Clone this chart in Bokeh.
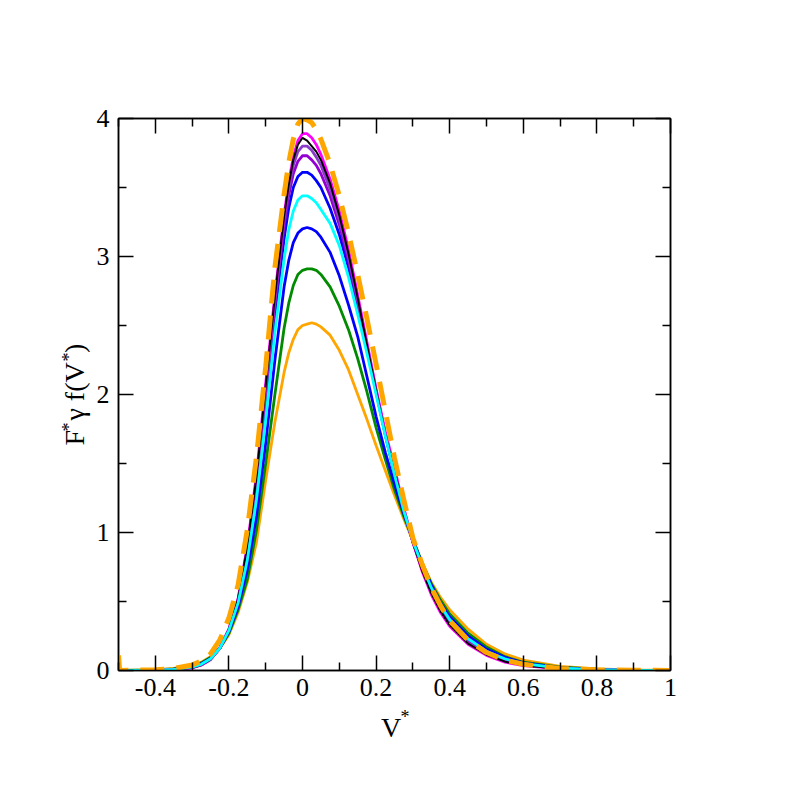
import math
from bokeh.plotting import figure
from bokeh.models import (FixedTicker, LinearAxis, Label, Range1d, CustomJSTickFormatter)
from bokeh.embed import file_html
from bokeh.resources import INLINE

# ---------------- data ----------------
v_star = [-0.5, -0.497, -0.4, -0.35, -0.3, -0.275, -0.25, -0.225, -0.2, -0.175,
          -0.15, -0.125, -0.1, -0.075, -0.05, -0.0375, -0.025, -0.0125, 0.0, 0.0125,
          0.025, 0.0375, 0.05, 0.075, 0.1, 0.125, 0.15, 0.175, 0.2, 0.225,
          0.25, 0.275, 0.3, 0.325, 0.35, 0.375, 0.4, 0.45, 0.5, 0.55,
          0.6, 0.7, 0.8, 0.9, 1.0]

f_theory = [0.11, 0.0, 0.005, 0.015, 0.04, 0.07, 0.12, 0.22, 0.38, 0.62,
            1.02, 1.55, 2.2, 2.92, 3.45, 3.68, 3.85, 3.96, 4.0, 3.99,
            3.97, 3.92, 3.85, 3.67, 3.44, 3.17, 2.87, 2.55, 2.22, 1.88,
            1.54, 1.24, 0.96, 0.77, 0.6, 0.47, 0.36, 0.22, 0.13, 0.075,
            0.045, 0.015, 0.005, 0.002, 0.0]

f_magenta = [0, 0, 0.002, 0.006, 0.02, 0.04, 0.08, 0.16, 0.3, 0.52,
             0.9, 1.42, 2.08, 2.72, 3.3, 3.54, 3.72, 3.84, 3.89, 3.89,
             3.86, 3.81, 3.74, 3.56, 3.33, 3.05, 2.72, 2.38, 2.04, 1.73,
             1.47, 1.18, 0.93, 0.72, 0.55, 0.42, 0.32, 0.19, 0.11, 0.06,
             0.035, 0.012, 0.004, 0.001, 0]

f_black = [0, 0, 0.002, 0.006, 0.02, 0.04, 0.08, 0.16, 0.3, 0.518,
           0.893, 1.405, 2.06, 2.71, 3.29, 3.52, 3.7, 3.81, 3.86, 3.84,
           3.8, 3.76, 3.7, 3.53, 3.3, 3.02, 2.7, 2.36, 2.03, 1.71,
           1.45, 1.17, 0.93, 0.725, 0.56, 0.43, 0.33, 0.195, 0.114, 0.064,
           0.037, 0.012, 0.004, 0.001, 0]

f_indigo = [0, 0, 0.002, 0.006, 0.02, 0.04, 0.08, 0.16, 0.298, 0.515,
            0.885, 1.39, 2.04, 2.69, 3.27, 3.49, 3.66, 3.76, 3.8, 3.8,
            3.77, 3.72, 3.66, 3.49, 3.27, 3.0, 2.69, 2.36, 2.03, 1.71,
            1.44, 1.17, 0.93, 0.73, 0.57, 0.44, 0.335, 0.2, 0.118, 0.068,
            0.04, 0.013, 0.004, 0.001, 0]

f_violet = [0, 0, 0.002, 0.006, 0.021, 0.041, 0.081, 0.16, 0.295, 0.51,
            0.87, 1.36, 2.0, 2.65, 3.22, 3.44, 3.6, 3.69, 3.73, 3.73,
            3.7, 3.66, 3.6, 3.44, 3.23, 2.97, 2.67, 2.35, 2.02, 1.71,
            1.43, 1.16, 0.93, 0.74, 0.58, 0.45, 0.345, 0.21, 0.125, 0.072,
            0.042, 0.014, 0.005, 0.0015, 0]

f_blue1 = [0, 0, 0.002, 0.007, 0.022, 0.042, 0.082, 0.16, 0.29, 0.5,
           0.84, 1.31, 1.93, 2.58, 3.13, 3.35, 3.5, 3.58, 3.61, 3.61,
           3.59, 3.55, 3.5, 3.35, 3.16, 2.92, 2.63, 2.33, 2.02, 1.71,
           1.42, 1.16, 0.93, 0.75, 0.59, 0.46, 0.355, 0.22, 0.13, 0.078,
           0.045, 0.015, 0.005, 0.0015, 0]

f_cyan = [0, 0, 0.003, 0.008, 0.025, 0.045, 0.085, 0.16, 0.29, 0.49,
          0.8, 1.24, 1.82, 2.45, 2.98, 3.19, 3.33, 3.41, 3.44, 3.44,
          3.42, 3.39, 3.34, 3.24, 3.08, 2.85, 2.58, 2.3, 2.0, 1.7,
          1.42, 1.16, 0.94, 0.76, 0.6, 0.47, 0.37, 0.23, 0.14, 0.085,
          0.05, 0.017, 0.006, 0.002, 0]

f_blue2 = [0, 0, 0.003, 0.01, 0.03, 0.05, 0.09, 0.16, 0.28, 0.46,
           0.73, 1.12, 1.65, 2.25, 2.78, 2.97, 3.1, 3.17, 3.2, 3.21,
           3.2, 3.18, 3.14, 3.03, 2.86, 2.65, 2.42, 2.13, 1.84, 1.58,
           1.35, 1.14, 0.95, 0.77, 0.62, 0.49, 0.39, 0.25, 0.155, 0.095,
           0.055, 0.02, 0.007, 0.002, 0]

f_green = [0, 0, 0.004, 0.012, 0.035, 0.055, 0.095, 0.16, 0.27, 0.44,
           0.66, 1.02, 1.5, 2.0, 2.48, 2.66, 2.79, 2.87, 2.9, 2.91,
           2.91, 2.9, 2.87, 2.78, 2.64, 2.47, 2.26, 2.02, 1.76, 1.53,
           1.31, 1.12, 0.95, 0.78, 0.63, 0.51, 0.41, 0.27, 0.17, 0.1,
           0.06, 0.024, 0.009, 0.003, 0.001]

f_orange = [0, 0, 0.005, 0.015, 0.04, 0.06, 0.1, 0.16, 0.26, 0.42,
            0.64, 0.93, 1.38, 1.8, 2.16, 2.3, 2.4, 2.47, 2.5, 2.51,
            2.52, 2.51, 2.49, 2.43, 2.32, 2.18, 2.0, 1.82, 1.63, 1.45,
            1.27, 1.1, 0.94, 0.78, 0.64, 0.53, 0.44, 0.3, 0.19, 0.12,
            0.075, 0.03, 0.012, 0.005, 0.002]

x_major = [-0.4, -0.2, 0.0, 0.2, 0.4, 0.6, 0.8, 1.0]
x_labels = ["-0.4", "-0.2", "0", "0.2", "0.4", "0.6", "0.8", "1"]
x_minor = [-0.5, -0.3, -0.1, 0.1, 0.3, 0.5, 0.7, 0.9]
y_major = [0, 1, 2, 3, 4]
y_labels = ["0", "1", "2", "3", "4"]
y_minor = [0.5, 1.5, 2.5, 3.5]

x_title = "V\u00a0"
y_title = "F\u00a0\u200a\u03b3 f(V\u00a0\u200a)"

FONT = "Liberation Serif"

# ---------------- figure ----------------
p = figure(width=788, height=788, frame_width=552, frame_height=552,
           x_range=Range1d(-0.5, 1.0), y_range=Range1d(0, 4),
           output_backend="svg", toolbar_location=None,
           min_border_left=118, min_border_right=118,
           min_border_top=118, min_border_bottom=118,
           x_axis_type=None, y_axis_type=None)
p.background_fill_color = "white"
p.border_fill_color = "white"
p.outline_line_color = "black"
p.outline_line_width = 1.5
p.xgrid.visible = False
p.ygrid.visible = False

def style_axis(ax, labels=True, standoff=6):
    ax.axis_line_color = "black"
    ax.axis_line_width = 1.5
    ax.major_tick_line_color = "black"
    ax.major_tick_line_width = 1.5
    ax.minor_tick_line_color = "black"
    ax.minor_tick_line_width = 1.5
    ax.major_tick_in = 15
    ax.major_tick_out = 0
    ax.minor_tick_in = 8
    ax.minor_tick_out = 0
    ax.major_label_text_font = FONT
    ax.major_label_text_font_size = "26px"
    ax.major_label_text_color = "black"
    ax.major_label_standoff = standoff
    ax.axis_label_text_font = FONT
    ax.axis_label_text_font_size = "28px"
    ax.axis_label_text_font_style = "normal"
    ax.axis_label_text_color = "black"
    if not labels:
        ax.formatter = CustomJSTickFormatter(code="return '';")

xt = FixedTicker(ticks=x_major, minor_ticks=x_minor)
yt = FixedTicker(ticks=y_major, minor_ticks=y_minor)

xb = LinearAxis(ticker=xt, axis_label=x_title)
xb.major_label_overrides = {t: s for t, s in zip(x_major, x_labels)}
style_axis(xb, True, 8)
xb.axis_label_standoff = 13
p.add_layout(xb, "below")

yl = LinearAxis(ticker=yt, axis_label=y_title)
yl.major_label_overrides = {t: s for t, s in zip(y_major, y_labels)}
style_axis(yl, True, 9)
yl.axis_label_standoff = 4
p.add_layout(yl, "left")

xa = LinearAxis(ticker=xt)
style_axis(xa, False)
p.add_layout(xa, "above")

yr = LinearAxis(ticker=yt)
style_axis(yr, False)
p.add_layout(yr, "right")

# ---------------- curves ----------------
series = [
    (f_orange, "#FFA500", 2.8),
    (f_green, "#008B00", 2.8),
    (f_blue2, "#0000FF", 2.8),
    (f_blue1, "#0000FF", 2.8),
    (f_violet, "#9400D3", 2.8),
    (f_indigo, "#8A3CC8", 2.8),
    (f_magenta, "#FF00FF", 2.8),
    (f_black, "#000000", 2.0),
    (f_cyan, "#00FFFF", 2.8),
]
for ys, col, lw in series:
    p.line(v_star, ys, line_color=col, line_width=lw)

p.line(v_star, f_theory, line_color="#FFA500", line_width=5, line_dash="24 12")

# ---------------- superscript asterisks (side panels: not clipped) ----------------
def xd(px):
    return (px - 118) / 368.0 - 0.5

def yd(py):
    return (670 - py) / 138.0

sup = [
    ("right", 68, 431, math.pi / 2),
    ("right", 68, 361, math.pi / 2),
    ("above", 400, 716, 0.0),
]
for side, px, py, ang in sup:
    p.add_layout(Label(x=xd(px), y=yd(py), text="*", angle=ang,
                       text_font=FONT, text_font_size="18px", text_color="black",
                       text_align="left", text_baseline="alphabetic"), side)

open("out.html", "w").write(file_html(p, INLINE))
